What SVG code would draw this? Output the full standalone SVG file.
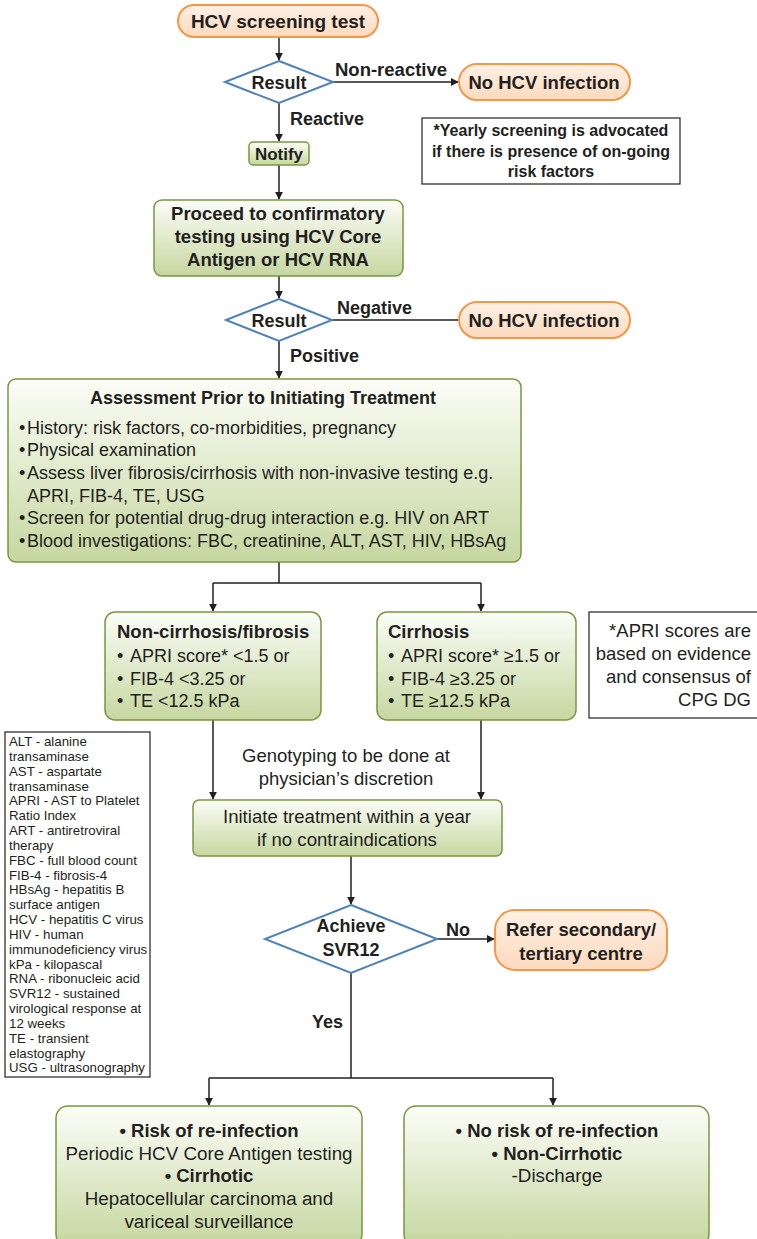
<svg xmlns="http://www.w3.org/2000/svg" width="757" height="1239" viewBox="0 0 757 1239">
<defs>
<linearGradient id="gGreen" x1="0" y1="0" x2="0" y2="1">
<stop offset="0" stop-color="#fcfdf8"/>
<stop offset="1" stop-color="#c6d7a0"/>
</linearGradient>
<linearGradient id="gOrange" x1="0" y1="0" x2="0" y2="1">
<stop offset="0" stop-color="#fef1e6"/>
<stop offset="1" stop-color="#fcd9bd"/>
</linearGradient>
<marker id="arr" viewBox="0 0 10 10" refX="9" refY="5" markerWidth="8" markerHeight="8" markerUnits="userSpaceOnUse" orient="auto">
<path d="M0,0 L10,5 L0,10 Z" fill="#231f20"/>
</marker>
</defs>
<style>
text{font-family:"Liberation Sans",Arial,sans-serif;fill:#231f20}
.b{font-weight:bold}
.org{fill:url(#gOrange);stroke:#f79646;stroke-width:2}
.grn{fill:url(#gGreen);stroke:#7a9640;stroke-width:1.5}
.dia{fill:#fff;stroke:#4f81bd;stroke-width:2}
.note{fill:#fff;stroke:#231f20;stroke-width:1.2}
.c{text-anchor:middle}
.e{text-anchor:end}
.ln{fill:none;stroke:#231f20;stroke-width:1.5}
.la{fill:none;stroke:#231f20;stroke-width:1.5;marker-end:url(#arr)}
</style>

<g id="connectors">
<line class="la" x1="279" y1="37" x2="279" y2="60"/>
<line class="la" x1="333" y1="82" x2="458" y2="82"/>
<line class="la" x1="279" y1="103" x2="279" y2="141"/>
<line class="la" x1="279" y1="165" x2="279" y2="199"/>
<line class="la" x1="279" y1="276" x2="279" y2="298"/>
<line class="ln" x1="332" y1="320" x2="459" y2="320"/>
<line class="la" x1="279" y1="341" x2="279" y2="378"/>
<line class="ln" x1="279" y1="562" x2="279" y2="583"/>
<line class="ln" x1="213" y1="583" x2="481" y2="583"/>
<line class="la" x1="213" y1="583" x2="213" y2="611"/>
<line class="la" x1="481" y1="583" x2="481" y2="611"/>
<line class="la" x1="213" y1="720" x2="213" y2="799"/>
<line class="la" x1="481" y1="720" x2="481" y2="799"/>
<line class="la" x1="351" y1="856" x2="351" y2="904"/>
<line class="la" x1="437" y1="939" x2="494" y2="939"/>
<line class="ln" x1="351" y1="973" x2="351" y2="1078"/>
<line class="ln" x1="209" y1="1078" x2="553" y2="1078"/>
<line class="la" x1="209" y1="1078" x2="209" y2="1105"/>
<line class="la" x1="553" y1="1078" x2="553" y2="1105"/>
<text class="b" x="335" y="76" font-size="18.5">Non-reactive</text>
<text class="b" x="290" y="125" font-size="18">Reactive</text>
<text class="b" x="337" y="314" font-size="18">Negative</text>
<text class="b" x="290" y="362" font-size="18">Positive</text>
<text class="b" x="446" y="936" font-size="18">No</text>
<text class="b" x="312" y="1028" font-size="18">Yes</text>
<text class="c" x="346" y="762" font-size="18.5">Genotyping to be done at</text>
<text class="c" x="346" y="785" font-size="18.5">physician’s discretion</text>
</g>

<g id="screening">
<rect class="org" x="178" y="5" width="200" height="32" rx="16"/>
<text class="b c" x="278" y="28" font-size="19">HCV screening test</text>
</g>

<g id="result1">
<polygon class="dia" points="279,61 333,82 279,103 225,82"/>
<text class="b c" x="279" y="89" font-size="18">Result</text>
</g>

<g id="nohcv1">
<rect class="org" x="459" y="64" width="171" height="36" rx="18"/>
<text class="b c" x="544" y="89" font-size="18.5">No HCV infection</text>
</g>

<g id="yearly">
<rect class="note" x="422" y="118" width="258" height="66"/>
<text class="b c" x="551" y="136" font-size="16">*Yearly screening is advocated</text>
<text class="b c" x="551" y="157" font-size="16">if there is presence of on-going</text>
<text class="b c" x="551" y="177" font-size="16">risk factors</text>
</g>

<g id="notify">
<rect class="grn" x="249" y="142" width="60" height="23" rx="4"/>
<text class="b c" x="279" y="160" font-size="17">Notify</text>
</g>

<g id="confirm">
<rect class="grn" x="154" y="200" width="249" height="76" rx="8"/>
<text class="b c" x="278" y="220" font-size="18.5">Proceed to confirmatory</text>
<text class="b c" x="278" y="243" font-size="18.5">testing using HCV Core</text>
<text class="b c" x="278" y="266" font-size="18.5">Antigen or HCV RNA</text>
</g>

<g id="result2">
<polygon class="dia" points="279,299 332,320 279,341 226,320"/>
<text class="b c" x="279" y="327" font-size="18">Result</text>
</g>

<g id="nohcv2">
<rect class="org" x="459" y="302" width="171" height="36" rx="18"/>
<text class="b c" x="544" y="327" font-size="18.5">No HCV infection</text>
</g>

<g id="assessment">
<rect class="grn" x="8" y="379" width="513" height="183" rx="8"/>
<text class="b c" x="263" y="404" font-size="18">Assessment Prior to Initiating Treatment</text>
<g font-size="18">
<text x="19" y="434">•</text><text x="27" y="434">History: risk factors, co-morbidities, pregnancy</text>
<text x="19" y="456">•</text><text x="27" y="456">Physical examination</text>
<text x="19" y="479">•</text><text x="27" y="479">Assess liver fibrosis/cirrhosis with non-invasive testing e.g.</text>
<text x="27" y="502">APRI, FIB-4, TE, USG</text>
<text x="19" y="524">•</text><text x="27" y="524">Screen for potential drug-drug interaction e.g. HIV on ART</text>
<text x="19" y="547">•</text><text x="27" y="547">Blood investigations: FBC, creatinine, ALT, AST, HIV, HBsAg</text>
</g>
</g>

<g id="noncirrhosis">
<rect class="grn" x="105" y="612" width="216" height="108" rx="10"/>
<text class="b" x="117" y="638" font-size="18.5">Non-cirrhosis/fibrosis</text>
<g font-size="18">
<text x="117" y="662">•</text><text x="130" y="662">APRI score* &lt;1.5 or</text>
<text x="117" y="685">•</text><text x="130" y="685">FIB-4 &lt;3.25 or</text>
<text x="117" y="707">•</text><text x="130" y="707">TE &lt;12.5 kPa</text>
</g>
</g>

<g id="cirrhosis">
<rect class="grn" x="377" y="612" width="199" height="108" rx="10"/>
<text class="b" x="388" y="638" font-size="18.5">Cirrhosis</text>
<g font-size="18">
<text x="388" y="662">•</text><text x="401" y="662">APRI score* ≥1.5 or</text>
<text x="388" y="685">•</text><text x="401" y="685">FIB-4 ≥3.25 or</text>
<text x="388" y="707">•</text><text x="401" y="707">TE ≥12.5 kPa</text>
</g>
</g>

<g id="aprinote">
<rect class="note" x="589" y="612" width="175" height="106"/>
<g font-size="18.5">
<text class="e" x="751" y="637">*APRI scores are</text>
<text class="e" x="751" y="660">based on evidence</text>
<text class="e" x="751" y="683">and consensus of</text>
<text class="e" x="751" y="706">CPG DG</text>
</g>
</g>

<g id="legend">
<rect class="note" x="5" y="732" width="145" height="345"/>
<g font-size="13.3">
<text x="9" y="746">ALT - alanine</text>
<text x="9" y="761">transaminase</text>
<text x="9" y="776">AST - aspartate</text>
<text x="9" y="791">transaminase</text>
<text x="9" y="805">APRI - AST to Platelet</text>
<text x="9" y="820">Ratio Index</text>
<text x="9" y="835">ART - antiretroviral</text>
<text x="9" y="850">therapy</text>
<text x="9" y="865">FBC - full blood count</text>
<text x="9" y="880">FIB-4 - fibrosis-4</text>
<text x="9" y="894">HBsAg - hepatitis B</text>
<text x="9" y="909">surface antigen</text>
<text x="9" y="924">HCV - hepatitis C virus</text>
<text x="9" y="939">HIV - human</text>
<text x="9" y="954">immunodeficiency virus</text>
<text x="9" y="969">kPa - kilopascal</text>
<text x="9" y="983">RNA - ribonucleic acid</text>
<text x="9" y="998">SVR12 - sustained</text>
<text x="9" y="1013">virological response at</text>
<text x="9" y="1028">12 weeks</text>
<text x="9" y="1043">TE - transient</text>
<text x="9" y="1058">elastography</text>
<text x="9" y="1072">USG - ultrasonography</text>
</g>
</g>

<g id="initiate">
<rect class="grn" x="193" y="800" width="309" height="56" rx="6"/>
<text class="c" x="347" y="823" font-size="18.6">Initiate treatment within a year</text>
<text class="c" x="347" y="846" font-size="18.6">if no contraindications</text>
</g>

<g id="svr12">
<polygon class="dia" points="351,905 437,939 351,973 265,939"/>
<text class="b c" x="351" y="932" font-size="18">Achieve</text>
<text class="b c" x="351" y="956" font-size="18">SVR12</text>
</g>

<g id="refer">
<rect class="org" x="495" y="910" width="172" height="60" rx="20"/>
<text class="b c" x="581" y="936" font-size="18.5">Refer secondary/</text>
<text class="b c" x="581" y="960" font-size="18.5">tertiary centre</text>
</g>

<g id="reinfection">
<rect class="grn" x="56" y="1106" width="306" height="140" rx="12"/>
<text class="b c" x="209" y="1137" font-size="18.5">• Risk of re-infection</text>
<text class="c" x="209" y="1160" font-size="18.8">Periodic HCV Core Antigen testing</text>
<text class="b c" x="209" y="1182" font-size="18.5">• Cirrhotic</text>
<text class="c" x="209" y="1205" font-size="18.8">Hepatocellular carcinoma and</text>
<text class="c" x="209" y="1228" font-size="18.8">variceal surveillance</text>
</g>

<g id="noreinfection">
<rect class="grn" x="404" y="1106" width="305" height="140" rx="12"/>
<text class="b c" x="557" y="1137" font-size="18.5">• No risk of re-infection</text>
<text class="b c" x="557" y="1160" font-size="18.5">• Non-Cirrhotic</text>
<text class="c" x="557" y="1182" font-size="18.8">-Discharge</text>
</g>
</svg>
